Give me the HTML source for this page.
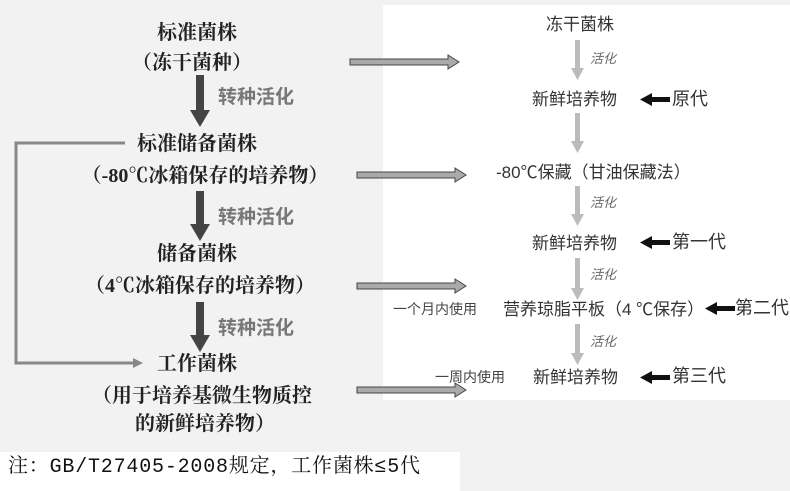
<!DOCTYPE html>
<html><head><meta charset="utf-8"><style>
body{margin:0;width:790px;height:491px;overflow:hidden;background:#f2f2f2;position:relative;font-family:"Liberation Sans","Noto Sans CJK SC",sans-serif;}
.t{position:absolute;white-space:nowrap;line-height:1;}
.L{font-size:20px;font-weight:bold;color:#222;transform:translateX(-50%);font-family:"Liberation Serif","Noto Serif CJK SC",serif;}
.g{font-size:19px;font-weight:bold;color:#777;}
.R{font-size:17px;color:#333;}
.s{font-size:13px;color:#666;font-style:italic;}
</style></head><body>
<div style="position:absolute;left:383px;top:5px;width:407px;height:395px;background:#fff"></div>
<div style="position:absolute;left:0;top:452px;width:460px;height:39px;background:#fff"></div>
<svg width="790" height="491" style="position:absolute;left:0;top:0">
<g fill="#444"><rect x="196" y="75" width="8" height="36"/><polygon points="190,110 210,110 200,127"/>
<rect x="196" y="191" width="8" height="34"/><polygon points="190,224 210,224 200,241"/>
<rect x="196" y="302" width="8" height="34"/><polygon points="190,335 210,335 200,352"/></g>
<polyline points="125,143 16,143 16,363 135,363" fill="none" stroke="#888" stroke-width="3"/>
<polygon points="133,358 143,363 133,368" fill="#888"/>
<g fill="#aaa" stroke="#444" stroke-width="1">
<polygon points="350,59 448,59 448,55 459,62 448,69 448,65 350,65"/>
<polygon points="357,172 455,172 455,168 466,175 455,182 455,178 357,178"/>
<polygon points="357,283 455,283 455,279 466,286 455,293 455,289 357,289"/>
<polygon points="357,387 455,387 455,383 466,390 455,397 455,393 357,393"/></g>
<g fill="#bbb"><rect x="575" y="40" width="5" height="30"/><polygon points="571,68 584,68 577.5,80"/>
<rect x="575" y="113" width="5" height="30"/><polygon points="571,141 584,141 577.5,153"/>
<rect x="575" y="186" width="5" height="30"/><polygon points="571,214 584,214 577.5,226"/>
<rect x="575" y="258" width="5" height="32"/><polygon points="571,288 584,288 577.5,300"/>
<rect x="575" y="324" width="5" height="31"/><polygon points="571,353 584,353 577.5,365"/></g>
<g fill="#111">
<rect x="650" y="97" width="20" height="5"/><polygon points="640,99.5 652,93 652,106"/>
<rect x="650" y="240" width="20" height="5"/><polygon points="640,242.5 652,236 652,249"/>
<rect x="715" y="306" width="20" height="5"/><polygon points="705,308.5 717,302 717,315"/>
<rect x="650" y="375" width="20" height="5"/><polygon points="640,377.5 652,371 652,384"/></g>
</svg>
<div class="t L" style="left:197px;top:23px">标准菌株</div>
<div class="t L" style="left:192px;top:53px">（冻干菌种）</div>
<div class="t g" style="left:218px;top:88px">转种活化</div>
<div class="t L" style="left:197px;top:134px">标准储备菌株</div>
<div class="t L" style="left:205px;top:166px">（-80℃冰箱保存的培养物）</div>
<div class="t g" style="left:218px;top:208px">转种活化</div>
<div class="t L" style="left:197px;top:244px">储备菌株</div>
<div class="t L" style="left:200px;top:276px">（4℃冰箱保存的培养物）</div>
<div class="t g" style="left:218px;top:319px">转种活化</div>
<div class="t L" style="left:197px;top:354px">工作菌株</div>
<div class="t L" style="left:202px;top:386px">（用于培养基微生物质控</div>
<div class="t L" style="left:205px;top:414px">的新鲜培养物）</div>
<div class="t" style="left:8px;top:458px;font-size:20px;letter-spacing:0.8px;color:#111;font-family:'Liberation Mono','Noto Serif CJK SC',monospace">注：GB/T27405-2008规定，工作菌株≤5代</div>
<div class="t R" style="left:546px;top:16px">冻干菌株</div>
<div class="t s" style="left:590px;top:52px">活化</div>
<div class="t R" style="left:532px;top:91px">新鲜培养物</div>
<div class="t R" style="left:672px;top:90px;font-size:18px">原代</div>
<div class="t R" style="left:496px;top:164px">-80℃保藏（甘油保藏法）</div>
<div class="t s" style="left:590px;top:196px">活化</div>
<div class="t R" style="left:532px;top:235px">新鲜培养物</div>
<div class="t R" style="left:672px;top:233px;font-size:18px">第一代</div>
<div class="t s" style="left:590px;top:268px">活化</div>
<div class="t" style="left:393px;top:302px;font-size:14px;color:#444">一个月内使用</div>
<div class="t R" style="left:503px;top:301px">营养琼脂平板（4 ℃保存）</div>
<div class="t R" style="left:735px;top:299px;font-size:18px">第二代</div>
<div class="t s" style="left:590px;top:335px">活化</div>
<div class="t" style="left:435px;top:370px;font-size:14px;color:#444">一周内使用</div>
<div class="t R" style="left:533px;top:369px">新鲜培养物</div>
<div class="t R" style="left:672px;top:367px;font-size:18px">第三代</div>
</body></html>
